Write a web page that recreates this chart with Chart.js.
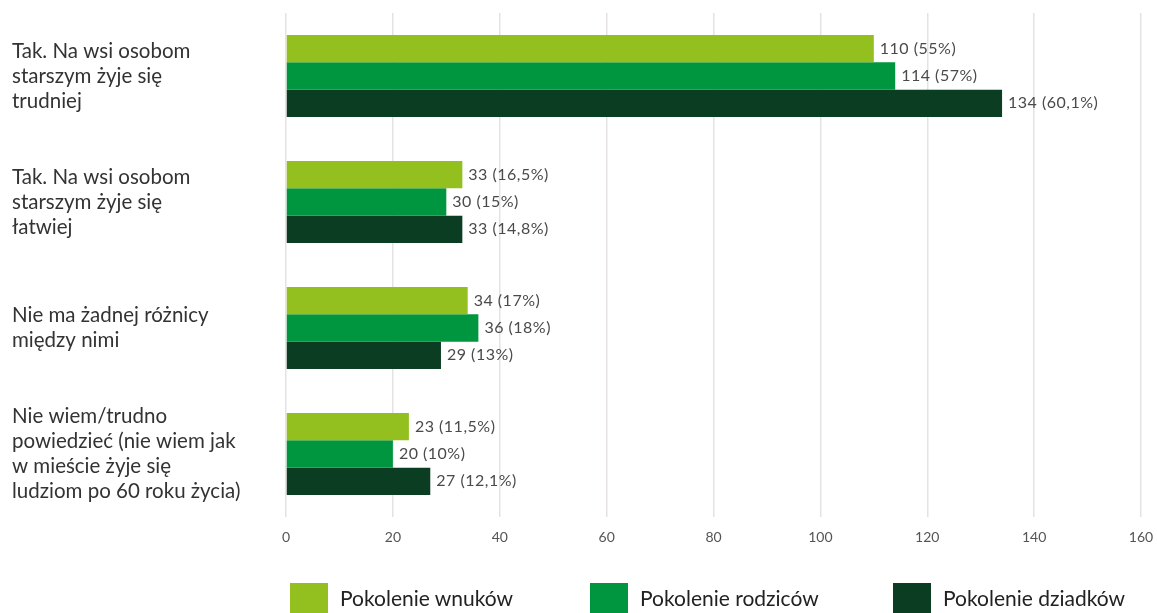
<!DOCTYPE html>
<html>
<head>
<meta charset="utf-8">
<script src="https://cdn.jsdelivr.net/npm/chart.js@4/dist/chart.umd.min.js"></script>
<style>
  html, body { margin: 0; padding: 0; background: #fff; }
  #wrap { position: relative; width: 1157px; height: 613px; overflow: hidden; }
  #legend { position: absolute; left: 0; top: 583px; width: 1157px; height: 40px; font-family: Lato, sans-serif; font-size: 21px; color: #222; }
  .lg-item { position: absolute; top: 0; display: flex; align-items: flex-start; }
  .lg-box { width: 38px; height: 32px; margin-right: 12px; }
  .lg-text { line-height: 30px; margin-top: 0px; }
</style>
</head>
<body>
<div id="wrap">
  <canvas id="chart" width="1157" height="613"></canvas>
  <div id="legend"></div>
</div>
<script>
// categories and series
const categories = [
  ['Tak. Na wsi osobom', 'starszym żyje się', 'trudniej'],
  ['Tak. Na wsi osobom', 'starszym żyje się', 'łatwiej'],
  ['Nie ma żadnej różnicy', 'między nimi'],
  ['Nie wiem/trudno', 'powiedzieć (nie wiem jak', 'w mieście żyje się', 'ludziom po 60 roku życia)']
];
const seriesNames = ['Pokolenie wnuków', 'Pokolenie rodziców', 'Pokolenie dziadków'];
const seriesColors = ['#93c01f', '#00963f', '#0b3d23'];

const wnukow = [110, 33, 34, 23];
const rodzicow = [114, 30, 36, 20];
const dziadkow = [134, 33, 29, 27];

const wnukowPct = ['55%', '16,5%', '17%', '11,5%'];
const rodzicowPct = ['57%', '15%', '18%', '10%'];
const dziadkowPct = ['60,1%', '14,8%', '13%', '12,1%'];

const xTicks = [0, 20, 40, 60, 80, 100, 120, 140, 160];

const seriesValues = [wnukow, rodzicow, dziadkow];
const seriesPct = [wnukowPct, rodzicowPct, dziadkowPct];

// --- value labels at bar ends ---
const valueLabels = {
  id: 'valueLabels',
  afterDatasetsDraw(chart) {
    const ctx = chart.ctx;
    ctx.save();
    ctx.font = '16px Lato, sans-serif';
    ctx.letterSpacing = '0.5px';
    ctx.fillStyle = '#4a4a4a';
    ctx.textAlign = 'left';
    ctx.textBaseline = 'middle';
    chart.data.datasets.forEach((ds, i) => {
      chart.getDatasetMeta(i).data.forEach((bar, j) => {
        ctx.fillText(`${ds.data[j]} (${seriesPct[i][j]})`, bar.x + 6, bar.y);
      });
    });
    ctx.restore();
  }
};

new Chart(document.getElementById('chart'), {
  type: 'bar',
  data: {
    labels: categories,
    datasets: seriesNames.map((name, i) => ({
      label: name,
      data: seriesValues[i],
      backgroundColor: seriesColors[i],
      barPercentage: 1,
      categoryPercentage: 0.65,
      borderWidth: 0,
    })),
  },
  options: {
    indexAxis: 'y',
    responsive: false,
    animation: false,
    layout: { padding: { left: 12, top: 13, right: 16, bottom: 0 } },
    plugins: {
      legend: { display: false },
      tooltip: { enabled: false },
    },
    scales: {
      x: {
        min: 0, max: 160,
        afterBuildTicks: s => { s.ticks = xTicks.map(v => ({ value: v })); },
        afterFit: s => { s.height = 96; s.paddingLeft = 0; s.paddingRight = 0; },
        grid: { color: '#e6e2e2', lineWidth: 1.5, drawTicks: false },
        border: { display: false },
        ticks: { color: '#555', font: { family: 'Lato', size: 14 }, padding: 12 },
      },
      y: {
        afterFit: s => { s.width = 274; s.paddingTop = 0; s.paddingBottom = 0; },
        grid: { display: false },
        border: { display: false },
        ticks: {
          crossAlign: 'far',
          color: '#333',
          font: { family: 'Lato', size: 20.5, lineHeight: 1.22 },
        },
      },
    },
  },
  plugins: [valueLabels],
});

// --- legend ---
const legendX = [290, 590, 893];
document.getElementById('legend').innerHTML = seriesNames.map((n, i) => `
  <div class="lg-item" style="left:${legendX[i]}px">
    <div class="lg-box" style="background:${seriesColors[i]}"></div>
    <div class="lg-text">${n}</div>
  </div>`).join('');
</script>
</body>
</html>
